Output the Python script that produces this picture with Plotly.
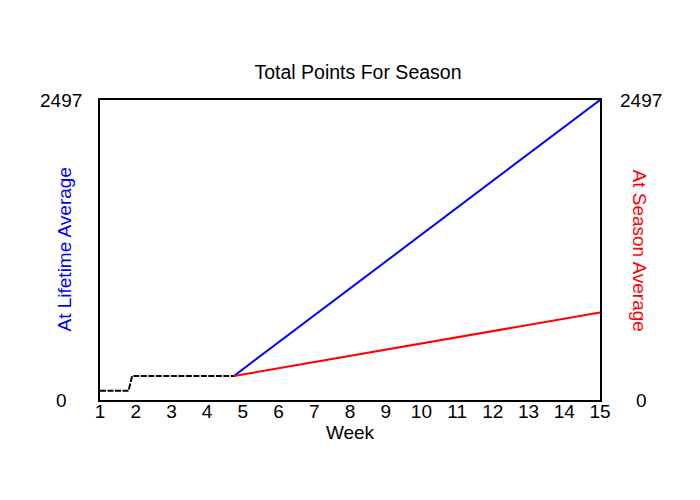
import plotly.graph_objects as go

# valori (punti totali stagione)
weeks_start = [1, 1.8, 1.9, 4.75]
points_start = [77, 77, 200, 200]

weeks = [4.75, 5, 6, 7, 8, 9, 10, 11, 12, 13, 14, 15]
lifetime_avg = [200, 256, 480, 704, 928, 1152, 1376, 1600, 1825, 2049, 2273, 2497]
season_avg = [200, 213, 264, 316, 367, 419, 470, 522, 573, 625, 676, 728]

y_max = 2497
x_ticks = list(range(1, 16))

font = "Liberation Sans, Arial, sans-serif"
fsize = 19

fig = go.Figure()

fig.add_trace(go.Scatter(x=weeks, y=season_avg, mode='lines', yaxis='y2',
                         line=dict(color='#ff0000', width=2)))
fig.add_trace(go.Scatter(x=weeks, y=lifetime_avg, mode='lines',
                         line=dict(color='#0000ff', width=2)))
fig.add_trace(go.Scatter(x=weeks_start, y=points_start, mode='lines',
                         line=dict(color='black', width=2, dash='6px,1.5px')))

# etichette asse y centrate (come nell'originale)
annotations = []
for side_x in [-0.078, 1.082]:
    for v in [0, y_max]:
        annotations.append(dict(x=side_x, y=v, xref='paper', yref='y', text=str(v),
                                showarrow=False, xanchor='center', yanchor='middle',
                                font=dict(size=fsize, color='black', family=font)))
annotations.append(dict(x=-0.098, y=0.5, xref='paper', yref='paper', text='At Lifetime Average',
                        textangle=-90, showarrow=False, font=dict(size=fsize, color='#0000ff', family=font)))
annotations.append(dict(x=1.104, y=0.5, xref='paper', yref='paper', text='At Season Average',
                        textangle=90, showarrow=False, font=dict(size=fsize, color='#ff0000', family=font)))

fig.update_layout(
    width=700, height=500,
    paper_bgcolor='white', plot_bgcolor='white',
    showlegend=False,
    margin=dict(l=92, r=108, t=92, b=108),
    title=dict(text='Total Points For Season', x=0.5, xanchor='center', y=0.872, yanchor='middle',
               font=dict(size=19.5, color='black', family=font)),
    xaxis=dict(range=[1, 15], tickvals=x_ticks, showgrid=False, zeroline=False,
               showline=True, linecolor='black', linewidth=1.5, mirror=True, ticks='',
               ticklabelstandoff=-7,
               tickfont=dict(size=fsize, color='black', family=font),
               title=dict(text='Week', standoff=0, font=dict(size=fsize, color='black', family=font))),
    yaxis=dict(range=[0, y_max], showgrid=False, zeroline=False, showticklabels=False,
               showline=True, linecolor='black', linewidth=1.5, mirror=True, ticks=''),
    yaxis2=dict(range=[0, y_max], overlaying='y', side='right', showgrid=False,
                zeroline=False, showticklabels=False, showline=False),
    annotations=annotations,
)

fig.write_html("out.html")
